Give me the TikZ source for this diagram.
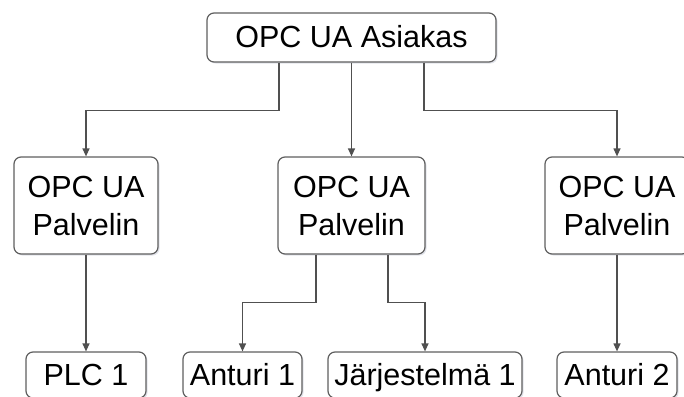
\documentclass[tikz,border=0pt]{standalone}
\usepackage{fontspec}
\setmainfont{Liberation Sans}
\usetikzlibrary{arrows.meta,shadows}
\definecolor{edgegray}{RGB}{95,95,95}
\definecolor{linegray}{RGB}{80,80,80}
\definecolor{shadowblue}{RGB}{90,100,140}

\begin{document}
\begin{tikzpicture}[
  x=1pt,y=-1pt,
  blk/.style={
    draw=edgegray,
    line width=1.2pt,
    fill=white,
    rounded corners=7pt,
    inner sep=2pt,
    align=center,
    font=\fontsize{30.5}{38}\selectfont,
    drop shadow={shadow xshift=1.5pt,shadow yshift=-1.5pt,fill=shadowblue,opacity=.18}
  },
  oneline/.style={blk,text height=24.5pt,text depth=4pt},
  lnk/.style={
    draw=linegray,
    line width=1.2pt,
    -{Triangle[length=8pt,width=7pt]}
  }
]
\useasboundingbox (0,0) rectangle (684,396);

% client
\node[oneline,minimum width=289pt,minimum height=49pt] (cl) at (351.5,37.5) {OPC UA Asiakas};

% servers
\node[blk,minimum width=144pt,minimum height=97pt] (ps1) at (86,205.5) {OPC UA\\Palvelin};
\node[blk,minimum width=147pt,minimum height=97pt] (ps2) at (351.5,205.5) {OPC UA\\Palvelin};
\node[blk,minimum width=144pt,minimum height=97pt] (ps3) at (617,205.5) {OPC UA\\Palvelin};

% devices
\node[oneline,minimum width=120pt,minimum height=46pt] (plc) at (86,375) {PLC 1};
\node[oneline,minimum width=119pt,minimum height=46pt] (ant1) at (242.5,375) {Anturi 1};
\node[oneline,minimum width=194pt,minimum height=46pt] (jar) at (425,375) {Järjestelmä 1};
\node[oneline,minimum width=120pt,minimum height=46pt] (ant2) at (617,375) {Anturi 2};

% client -> servers
\draw[lnk] ([xshift=-72.5pt]cl.south) -- ++(0,-48pt) -| (ps1.north);
\draw[lnk] (cl.south) -- (ps2.north);
\draw[lnk] ([xshift=72.5pt]cl.south) -- ++(0,-48pt) -| (ps3.north);

% servers -> devices
\draw[lnk] (ps1.south) -- (plc.north);
\draw[lnk] ([xshift=-35.5pt]ps2.south) -- ++(0,-48pt) -| (ant1.north);
\draw[lnk] ([xshift=36.5pt]ps2.south) -- ++(0,-48pt) -| (jar.north);
\draw[lnk] (ps3.south) -- (ant2.north);
\end{tikzpicture}
\end{document}
